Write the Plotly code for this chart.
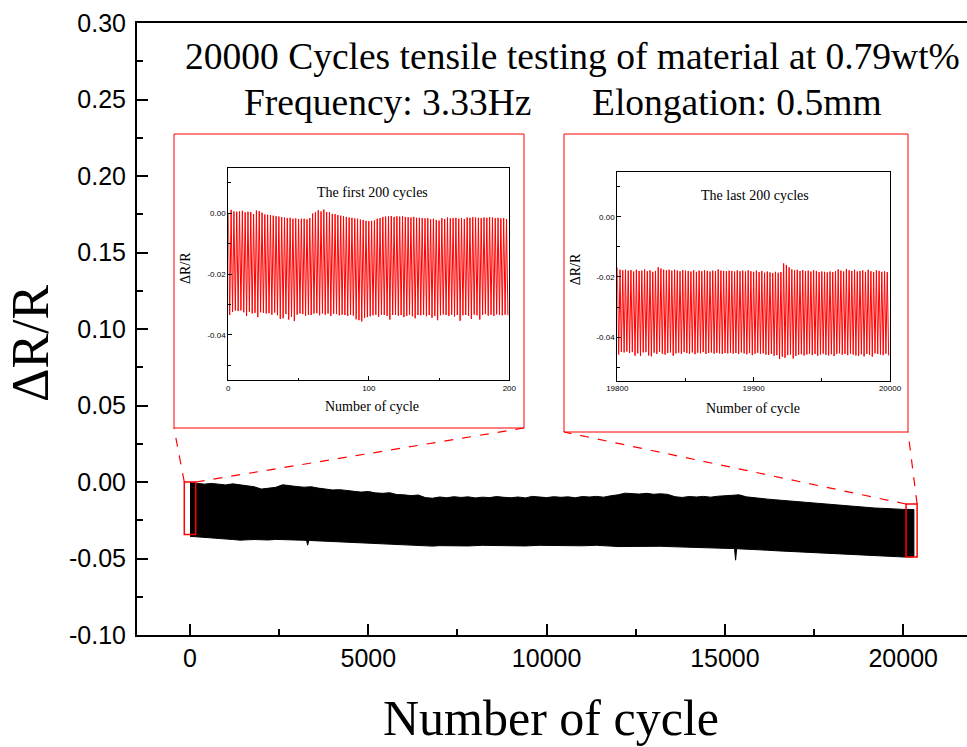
import plotly.graph_objects as go

# ---------------- data ----------------
# main plot: envelope of the dense oscillation (values x1e-3)
top_cycle = [0, 200, 400, 600, 800, 1000, 1200, 1400, 1600, 1800, 2000, 2200, 2400, 2600, 2800, 3000,
             3200, 3400, 3600, 3800, 4000, 4200, 4400, 4600, 4800, 5000, 5200, 5400, 5600, 5800, 6000,
             6200, 6400, 6600, 6800, 7000, 7200, 7400, 7600, 7800, 8000, 8200, 8400, 8600, 8800, 9000,
             9200, 9400, 9600, 9800, 10000, 10200, 10400, 10600, 10800, 11000, 11200, 11400, 11600,
             11800, 12000, 12200, 12400, 12600, 12800, 13000, 13200, 13400, 13600, 13800, 14000, 14200,
             14400, 14600, 14800, 15000, 15200, 15400, 15600, 15800, 16000, 16200, 16400, 16600, 16800,
             17000, 17200, 17400, 17600, 17800, 18000, 18200, 18400, 18600, 18800, 19000, 19200, 19400,
             19600, 19800, 20000, 20300]
top_milli = [-0.3, -0.8, -1.4, -0.9, -1.5, -1.9, -1.2, -2.0, -2.4, -3.1, -4.6, -4.2, -3.5, -1.8, -2.6, -3.0,
             -3.4, -3.1, -4.0, -4.6, -5.2, -5.0, -5.8, -6.1, -6.6, -6.2, -7.1, -7.4, -7.0, -8.2, -8.4,
             -8.9, -8.5, -10.2, -10.6, -9.8, -10.3, -9.6, -10.1, -9.7, -10.4, -9.9, -10.2, -9.5, -10.0, -10.3,
             -9.8, -10.4, -9.4, -9.9, -10.2, -9.6, -10.0, -9.7, -10.3, -9.5, -9.8, -9.4, -9.9,
             -9.0, -8.4, -7.3, -7.6, -7.9, -7.4, -8.0, -7.7, -8.1, -9.6, -10.1, -9.5, -9.8,
             -9.4, -9.9, -9.3, -9.0, -8.8, -8.4, -9.7, -10.3, -10.9, -11.2, -11.6, -12.0, -12.4,
             -12.8, -13.3, -13.6, -14.1, -14.6, -15.0, -15.3, -15.7, -16.0, -16.4, -16.7, -17.0, -17.2,
             -17.5, -17.8, -17.9, -18.0]

bottom_cycle = [0, 200, 400, 600, 800, 1000, 1200, 1400, 1600, 1800, 2000, 2200, 2400, 2600, 2800, 3000,
                3200, 3270, 3300, 3330, 3400, 3600, 3800, 4000, 4200, 4400, 4600, 4800, 5000, 5200, 5400,
                5600, 5800, 6000, 6200, 6400, 6600, 6800, 7000, 7400, 7800, 8200, 8600, 9000, 9400, 9800,
                10200, 10600, 11000, 11400, 11800, 12000, 12200, 12400, 12600, 12800, 13000, 13200, 13400,
                13600, 13800, 14000, 14200, 14400, 14600, 14800, 15000, 15200, 15270, 15300, 15330, 15400,
                15600, 15800, 16000, 16200, 16400, 16600, 16800, 17000, 17200, 17400, 17600, 17800, 18000,
                18200, 18400, 18600, 18800, 19000, 19200, 19400, 19600, 19800, 20000, 20300]
bottom_milli = [-35.5, -36.0, -36.4, -36.6, -36.9, -37.3, -37.6, -38.0, -37.8, -37.6, -37.7, -37.9, -37.5, -37.4,
                -37.8, -38.0, -38.1, -38.2, -41.3, -38.2, -38.3, -38.5, -38.9, -39.2, -39.4, -39.7, -39.9,
                -40.1, -40.0, -40.3, -40.5, -40.6, -40.8, -41.0, -41.1, -41.3, -41.7, -41.9, -41.6, -41.5,
                -41.8, -41.4, -41.7, -41.5, -41.8, -41.4, -41.6, -41.5, -41.7, -41.4, -41.9, -42.2, -42.5,
                -42.3, -42.0, -41.9, -42.1, -42.0, -42.2, -42.5, -42.6, -42.6, -42.7, -42.9, -43.1, -43.2,
                -43.4, -43.5, -43.5, -51.1, -43.6, -43.6, -43.9, -44.2, -44.4, -44.6, -44.9, -45.1, -45.4,
                -45.7, -45.9, -46.1, -46.3, -46.6, -46.8, -47.0, -47.2, -47.5, -47.7, -48.0, -48.2, -48.4,
                -48.6, -48.8, -49.0, -48.9]

# inset 1: first 200 cycles, peak maxima / minima (x1e-3)
first_top = [0.0, 1.1, 0.6, 0.5, 0.6, 0.8, 0.3, 0.5, 0.4, -0.3,
             0.9, 0.7, 0.2, -0.4, -0.5, -0.6, -0.8, -1.0, -1.1, -1.3,
             -1.4, -1.6, -1.5, -1.8, -1.7, -1.9, -1.8, -1.8, -2.0, -1.6,
             -0.1, 0.3, 1.0, 0.6, 1.2, 0.4, 0.3, -0.2, -0.3, -0.6,
             -0.8, -1.0, -1.2, -1.4, -1.5, -1.7, -1.8, -2.1, -2.2, -2.5,
             -2.6, -2.5, -2.4, -1.8, -1.6, -1.2, -1.1, -1.0, -0.9, -1.2,
             -1.0, -1.1, -0.9, -1.2, -1.3, -1.4, -1.2, -1.5, -1.5, -1.6,
             -1.7, -1.6, -2.0, -1.8, -2.2, -2.4, -1.6, -1.9, -1.4, -1.7,
             -1.6, -1.5, -1.8, -1.6, -1.9, -1.4, -1.5, -1.3, -1.4, -1.5,
             -1.6, -1.4, -1.5, -1.3, -1.4, -1.6, -1.5, -1.7, -1.6, -1.9]
first_bottom = [-33.5, -32.5, -32.0, -32.2, -32.0, -32.6, -33.8, -32.4, -33.0, -32.8,
                -34.2, -32.6, -32.8, -33.0, -32.9, -33.4, -32.7, -33.6, -34.8, -34.6,
                -33.2, -35.0, -34.1, -35.5, -33.4, -33.0, -33.2, -33.7, -33.4, -33.5,
                -33.0, -32.9, -33.6, -33.0, -33.4, -33.0, -33.8, -33.1, -33.2, -33.6,
                -33.4, -33.5, -33.8, -33.4, -33.7, -34.9, -35.2, -35.6, -34.5, -34.2,
                -33.9, -33.6, -33.4, -34.1, -33.4, -33.5, -33.8, -35.0, -33.5, -33.4,
                -33.7, -33.5, -34.2, -33.8, -33.4, -33.9, -34.6, -33.5, -33.6, -33.4,
                -33.9, -33.5, -34.4, -33.8, -35.2, -33.6, -33.3, -33.5, -33.8, -33.4,
                -34.0, -33.5, -35.4, -33.6, -33.5, -33.8, -34.8, -33.4, -33.6, -35.0,
                -33.5, -33.2, -33.7, -33.4, -33.8, -33.3, -33.4, -33.6, -33.4, -33.6]

# inset 2: last 200 cycles, peak maxima / minima (x1e-3)
last_top = [-16.8, -17.6, -17.8, -17.6, -17.9, -17.7, -18.2, -17.6, -18.0, -17.9,
            -17.5, -18.1, -17.8, -18.3, -18.0, -16.8, -17.2, -17.6, -17.8, -17.6,
            -17.9, -17.6, -17.9, -18.1, -17.7, -17.9, -18.0, -18.2, -17.8, -18.3,
            -17.9, -18.1, -17.8, -18.0, -18.2, -17.9, -18.1, -17.5, -17.9, -18.0,
            -18.1, -17.9, -18.0, -18.2, -17.8, -18.1, -17.9, -18.2, -17.8, -18.1,
            -18.3, -17.9, -18.4, -18.0, -18.6, -18.2, -18.5, -18.7, -18.3, -18.6,
            -18.4, -15.5, -16.0, -16.8, -17.5, -17.8, -17.6, -18.0, -17.7, -18.1,
            -17.9, -18.2, -17.8, -18.0, -18.4, -18.2, -18.3, -18.5, -18.2, -18.4,
            -18.1, -17.5, -17.9, -18.2, -17.4, -17.8, -18.0, -17.6, -18.2, -18.0,
            -17.8, -18.3, -17.6, -18.1, -18.4, -17.8, -18.0, -18.3, -18.1, -18.4]
last_bottom = [-45.8, -44.9, -45.1, -44.8, -45.3, -45.0, -46.2, -45.4, -46.3, -45.1,
               -45.0, -46.1, -46.4, -45.2, -45.6, -44.9, -45.5, -45.8, -45.3, -45.1,
               -46.2, -45.4, -45.2, -45.6, -45.0, -45.3, -45.5, -45.1, -45.7, -45.2,
               -45.4, -45.0, -45.6, -45.3, -45.1, -45.5, -45.2, -45.4, -45.6, -45.3,
               -45.4, -45.2, -45.5, -45.3, -45.6, -45.1, -45.4, -45.7, -45.3, -46.0,
               -45.5, -45.2, -45.6, -45.4, -45.8, -45.9, -45.6, -46.2, -46.0, -47.3,
               -46.5, -46.9, -46.0, -45.8, -47.1, -46.3, -45.9, -45.7, -46.1, -45.8,
               -45.5, -46.0, -45.6, -46.2, -45.8, -45.5, -45.9, -46.1, -45.7, -46.3,
               -45.6, -45.4, -45.9, -45.6, -46.0, -45.5, -45.8, -46.1, -46.2, -45.7,
               -46.4, -45.6, -45.9, -46.5, -45.4, -45.6, -45.8, -46.0, -45.5, -46.1]

first_start = 0
last_start = 19800

main_xtick_vals = [0, 5000, 10000, 15000, 20000]
main_xtick_text = ["0", "5000", "10000", "15000", "20000"]
main_ytick_vals = [-0.10, -0.05, 0.00, 0.05, 0.10, 0.15, 0.20, 0.25, 0.30]
main_ytick_text = ["-0.10", "-0.05", "0.00", "0.05", "0.10", "0.15", "0.20", "0.25", "0.30"]
inset_ytick_vals = [-0.04, -0.02, 0.00]
inset_ytick_text = ["-0.04", "-0.02", "0.00"]
first_xtick_vals = [0, 100, 200]
last_xtick_vals = [19800, 19900, 20000]

title_line1 = "20000 Cycles tensile testing of material at 0.79wt%"
title_freq = "Frequency: 3.33Hz"
title_elong = "Elongation: 0.5mm"

# zoom boxes on main plot (data coords)
box_first = dict(x0=-160, x1=160, y0=-0.0343, y1=0.0)
box_last = dict(x0=20080, x1=20390, y0=-0.049, y1=-0.0144)

# ---------------- build ----------------
def zigzag(start, tops, bottoms):
    xs, ys = [], []
    for k, (t, b) in enumerate(zip(tops, bottoms)):
        xs += [start + 2 * k, start + 2 * k + 1]
        ys += [t / 1000.0, b / 1000.0]
    return xs, ys

SERIF = "Liberation Serif"
SANS = "Liberation Sans"

X_RANGE = [-1486, 21789]
Y_RANGE = [-0.10, 0.30]

fig = go.Figure()

band_x = top_cycle + bottom_cycle[::-1]
band_y = [v / 1000.0 for v in top_milli] + [v / 1000.0 for v in bottom_milli[::-1]]
fig.add_trace(go.Scatter(
    x=band_x, y=band_y, fill="toself", fillcolor="black", mode="lines",
    line=dict(color="black", width=1), showlegend=False, hoverinfo="skip",
    xaxis="x", yaxis="y"))

x1s, y1s = zigzag(first_start, first_top, first_bottom)
fig.add_trace(go.Scatter(x=x1s, y=y1s, mode="lines", line=dict(color="red", width=1),
                         showlegend=False, xaxis="x2", yaxis="y2"))
x2s, y2s = zigzag(last_start, last_top, last_bottom)
fig.add_trace(go.Scatter(x=x2s, y=y2s, mode="lines", line=dict(color="red", width=1),
                         showlegend=False, xaxis="x3", yaxis="y3"))

W, H = 967, 747
ML, MR, MT, MB = 137, 0, 23, 112
PW = W - ML - MR
PH = H - MT - MB

def px(xpix):
    return (xpix - ML) / PW

def py(ypix):
    return (H - MB - ypix) / PH

def dx(x):
    return (x - X_RANGE[0]) / (X_RANGE[1] - X_RANGE[0])

def dy(y):
    return (y - Y_RANGE[0]) / (Y_RANGE[1] - Y_RANGE[0])

inset_axis = dict(showline=True, mirror=True, linecolor="black", linewidth=1,
                  ticks="inside", ticklen=4, tickwidth=1, tickcolor="black",
                  showgrid=False, zeroline=False, automargin=False,
                  tickfont=dict(family=SANS, size=8, color="black"))

fig.update_layout(
    width=W, height=H,
    margin=dict(l=ML, r=MR, t=MT, b=MB, autoexpand=False),
    paper_bgcolor="white", plot_bgcolor="white",
    showlegend=False,
    xaxis=dict(range=X_RANGE, showline=True, mirror=True, linecolor="black", linewidth=2,
               ticks="inside", ticklen=11, tickwidth=2, tickcolor="black",
               tickvals=main_xtick_vals, ticktext=main_xtick_text, automargin=False,
               minor=dict(ticks="inside", ticklen=6, tickwidth=2, tickcolor="black", dtick=2500, tick0=0),
               showgrid=False, zeroline=False,
               tickfont=dict(family=SANS, size=25, color="black")),
    yaxis=dict(range=Y_RANGE, showline=True, mirror=False, linecolor="black", linewidth=2,
               ticks="inside", ticklen=11, tickwidth=2, tickcolor="black",
               tickvals=main_ytick_vals, ticktext=main_ytick_text, automargin=False,
               ticklabelstandoff=4,
               minor=dict(ticks="inside", ticklen=6, tickwidth=2, tickcolor="black", dtick=0.025, tick0=0),
               showgrid=False, zeroline=False,
               tickfont=dict(family=SANS, size=25, color="black")),
    xaxis2=dict(domain=[px(228.3), px(509.3)], anchor="y2", range=[0, 200], tickvals=first_xtick_vals,
                minor=dict(ticks="inside", ticklen=2.5, dtick=50, tickcolor="black"), **inset_axis),
    yaxis2=dict(domain=[py(380), py(168.3)], anchor="x2", range=[-0.0549, 0.0148],
                tickvals=inset_ytick_vals, ticktext=inset_ytick_text,
                minor=dict(ticks="inside", ticklen=2.5, dtick=0.01, tick0=0, tickcolor="black"), **inset_axis),
    xaxis3=dict(domain=[px(617.3), px(890)], anchor="y3", range=[19800, 20000], tickvals=last_xtick_vals,
                ticktext=[str(v) for v in last_xtick_vals],
                minor=dict(ticks="inside", ticklen=2.5, dtick=50, tickcolor="black"), **inset_axis),
    yaxis3=dict(domain=[py(380.7), py(171.7)], anchor="x3", range=[-0.0545, 0.0150],
                tickvals=inset_ytick_vals, ticktext=inset_ytick_text,
                minor=dict(ticks="inside", ticklen=2.5, dtick=0.01, tick0=0, tickcolor="black"), **inset_axis),
)

shapes = []
shapes.append(dict(type="rect", xref="paper", yref="paper", x0=px(174), x1=px(524), y0=py(428), y1=py(134),
                   line=dict(color="red", width=1), layer="below"))
shapes.append(dict(type="rect", xref="paper", yref="paper", x0=px(564), x1=px(908), y0=py(432), y1=py(134),
                   line=dict(color="red", width=1), layer="below"))
for b in (box_first, box_last):
    shapes.append(dict(type="rect", xref="x", yref="y", x0=b["x0"], x1=b["x1"], y0=b["y0"], y1=b["y1"],
                       line=dict(color="red", width=1.5)))
conn = [
    (dx(box_first["x0"]), dy(box_first["y1"]), px(174), py(428)),
    (dx(box_first["x1"]), dy(box_first["y1"]), px(524), py(428)),
    (dx(box_last["x0"]), dy(box_last["y1"]), px(564), py(432)),
    (dx(box_last["x1"]), dy(box_last["y1"]), px(908), py(432)),
]
for x0, y0, x1, y1 in conn:
    shapes.append(dict(type="line", xref="paper", yref="paper", x0=x0, y0=y0, x1=x1, y1=y1,
                       line=dict(color="red", width=1.2, dash="dash")))
fig.update_layout(shapes=shapes)

ann = []
def text(t, x, y, size, family=SERIF, angle=0, xanchor="center"):
    ann.append(dict(text=t, x=x, y=y, xref="paper", yref="paper", showarrow=False,
                    xanchor=xanchor, yanchor="middle", textangle=angle,
                    font=dict(family=family, size=size, color="black")))

text(title_line1, px(572.5), py(56), 37.5)
text(title_freq, px(242), py(103), 37.5, xanchor="left")
text(title_elong, px(590), py(103), 37.5, xanchor="left")
text("ΔR/R", px(31), py(343), 52, angle=-90)
text("Number of cycle", px(551), py(718), 50)
text("The first 200 cycles", px(372), py(192.7), 14)
text("The last 200 cycles", px(755), py(195.7), 14)
text("Number of cycle", px(372), py(406.7), 14)
text("Number of cycle", px(753), py(408.3), 14)
text("ΔR/R", px(185), py(268), 14, angle=-90)
text("ΔR/R", px(575), py(269.3), 14, angle=-90)
fig.update_layout(annotations=ann)

fig.write_html("out.html")
